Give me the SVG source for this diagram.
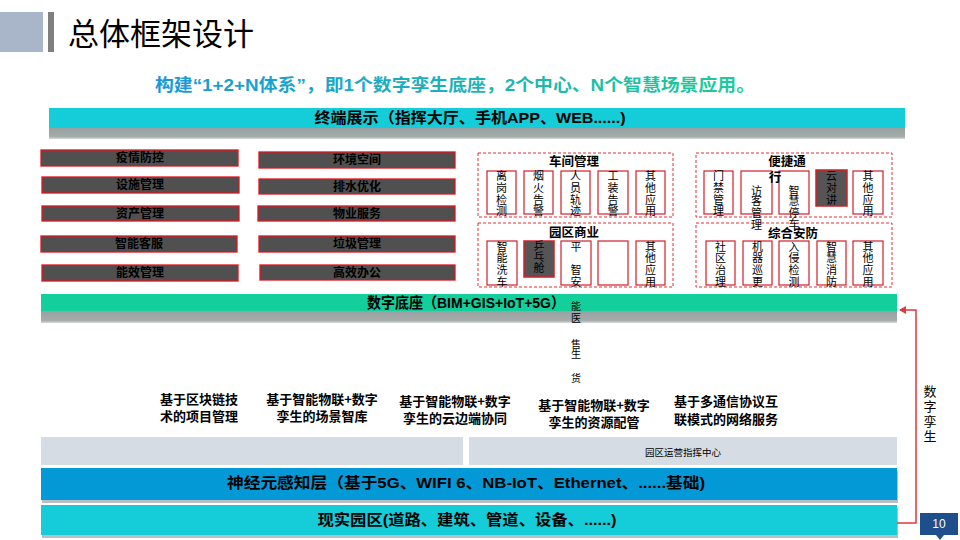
<svg xmlns="http://www.w3.org/2000/svg" width="960" height="540" viewBox="0 0 960 540">
<defs>
<style>
text{font-family:"Liberation Sans","Noto Sans CJK SC",sans-serif;fill:#000}
.t{font-size:12px;font-weight:bold;text-anchor:middle}
.box{fill:#505050;stroke:#E0141E;stroke-width:1.3}
.wb{fill:#fff;stroke:#D02028;stroke-width:1.2}
.gb{fill:#555;stroke:#D02028;stroke-width:1.5}
.dash{fill:none;stroke:#E03038;stroke-width:1;stroke-dasharray:3,2}
.v{font-size:11px;text-anchor:middle}
.sec{font-size:12.5px;font-weight:bold;text-anchor:middle}
.bar{font-size:15px;font-weight:bold;text-anchor:middle}
.cap{font-size:13px;font-weight:bold;text-anchor:middle;font-family:"Noto Sans CJK SC",sans-serif}
</style>
<linearGradient id="sub" x1="0" x2="1" y1="0" y2="0">
<stop offset="0" stop-color="#1898DA"/>
<stop offset="1" stop-color="#1FCB96"/>
</linearGradient>
<linearGradient id="sh" x1="0" x2="0" y1="0" y2="1">
<stop offset="0" stop-color="#96A09E"/>
<stop offset="0.8" stop-color="#A4ACAA"/>
<stop offset="1" stop-color="#D8DCDC"/>
</linearGradient>
<marker id="arr" markerWidth="8" markerHeight="8" refX="6" refY="4" orient="auto" markerUnits="userSpaceOnUse">
<path d="M0,0 L7,4 L0,8 Z" fill="#E0383F"/>
</marker>
</defs>
<rect width="960" height="540" fill="#fff"/>

<g id="header">
<rect x="0" y="12" width="43" height="40" fill="#A9B5C8"/>
<rect x="48" y="12" width="6" height="40" fill="#7F7F7F"/>
<text x="68" y="45" style="font-size:31px">总体框架设计</text>
</g>

<g id="subtitle">
<text x="455" y="91" text-anchor="middle" style="font-size:17px;font-weight:bold;fill:url(#sub)" textLength="600" lengthAdjust="spacingAndGlyphs">构建“1+2+N体系”，即1个数字孪生底座，2个中心、N个智慧场景应用。</text>
</g>

<g id="terminal">
<rect x="49" y="127" width="856" height="12" fill="url(#sh)"/>
<rect x="49" y="108" width="856" height="20" fill="#14CDD8"/>
<text class="bar" x="470" y="123" textLength="311" lengthAdjust="spacingAndGlyphs">终端展示（指挥大厅、手机APP、WEB......)</text>
</g>

<g id="left-list">
<g id="n-yiqing"><rect class="box" x="41" y="150" width="197" height="16"/><text class="t" x="140" y="162">疫情防控</text></g>
<g id="n-sheshi"><rect class="box" x="42" y="177" width="197" height="16"/><text class="t" x="140" y="189">设施管理</text></g>
<g id="n-zichan"><rect class="box" x="42" y="206" width="197" height="15"/><text class="t" x="140" y="218">资产管理</text></g>
<g id="n-kefu"><rect class="box" x="41" y="236" width="196" height="16"/><text class="t" x="139" y="248">智能客服</text></g>
<g id="n-nengxiao"><rect class="box" x="42" y="265" width="196" height="16"/><text class="t" x="140" y="277">能效管理</text></g>
<g id="n-huanjing"><rect class="box" x="259" y="152" width="196" height="16"/><text class="t" x="357" y="164">环境空间</text></g>
<g id="n-paishui"><rect class="box" x="259" y="179" width="196" height="15"/><text class="t" x="357" y="191">排水优化</text></g>
<g id="n-wuye"><rect class="box" x="258" y="206" width="197" height="15"/><text class="t" x="357" y="218">物业服务</text></g>
<g id="n-laji"><rect class="box" x="259" y="236" width="196" height="16"/><text class="t" x="357" y="248">垃圾管理</text></g>
<g id="n-bangong"><rect class="box" x="260" y="265" width="195" height="15"/><text class="t" x="357" y="277">高效办公</text></g>
</g>

<g id="workshop">
<rect class="dash" x="478" y="153" width="195" height="64"/>
<text class="sec" x="574" y="166">车间管理</text>
<g id="w1"><rect class="wb" x="487" y="171" width="29" height="43"/><text class="v"><tspan x="501.5" y="180">离</tspan><tspan x="501.5" y="192">岗</tspan><tspan x="501.5" y="204">检</tspan><tspan x="501.5" y="215">测</tspan></text></g>
<g id="w2"><rect class="wb" x="524" y="171" width="29" height="43"/><text class="v"><tspan x="538.5" y="180">烟</tspan><tspan x="538.5" y="192">火</tspan><tspan x="538.5" y="204">告</tspan><tspan x="538.5" y="215">警</tspan></text></g>
<g id="w3"><rect class="wb" x="561" y="171" width="29" height="43"/><text class="v"><tspan x="575.5" y="180">人</tspan><tspan x="575.5" y="192">员</tspan><tspan x="575.5" y="204">轨</tspan><tspan x="575.5" y="215">迹</tspan></text></g>
<g id="w4"><rect class="wb" x="598" y="171" width="30" height="43"/><text class="v"><tspan x="613" y="180">工</tspan><tspan x="613" y="192">装</tspan><tspan x="613" y="204">告</tspan><tspan x="613" y="215">警</tspan></text></g>
<g id="w5"><rect class="wb" x="636" y="171" width="29" height="43"/><text class="v"><tspan x="650.5" y="180">其</tspan><tspan x="650.5" y="192">他</tspan><tspan x="650.5" y="204">应</tspan><tspan x="650.5" y="215">用</tspan></text></g>
</g>

<g id="commerce">
<rect class="dash" x="478" y="223" width="195" height="64"/>
<text class="sec" x="574" y="237">园区商业</text>
<g id="c1"><rect class="wb" x="487" y="241" width="30" height="44"/><text class="v"><tspan x="502" y="251">智</tspan><tspan x="502" y="262">能</tspan><tspan x="502" y="274">洗</tspan><tspan x="502" y="286">车</tspan></text></g>
<g id="c2"><rect class="gb" x="524" y="241" width="30" height="36"/><text class="v"><tspan x="539" y="250">乒</tspan><tspan x="539" y="261">乓</tspan><tspan x="539" y="272">舱</tspan></text></g>
<g id="c3"><rect class="wb" x="561" y="241" width="30" height="44"/><text class="v"><tspan x="576" y="251">平</tspan><tspan x="576" y="274">智</tspan><tspan x="576" y="286">安</tspan></text></g>
<g id="c4"><rect class="wb" x="598" y="241" width="30" height="44"/></g>
<g id="c5"><rect class="wb" x="636" y="241" width="29" height="44"/><text class="v"><tspan x="650.5" y="251">其</tspan><tspan x="650.5" y="262">他</tspan><tspan x="650.5" y="274">应</tspan><tspan x="650.5" y="286">用</tspan></text></g>
</g>

<g id="convenience">
<rect class="dash" x="696" y="153" width="196" height="64"/>
<text class="sec" x="787" y="166">便捷通</text>
<g id="v1"><rect class="wb" x="704" y="171" width="29" height="43"/><text class="v"><tspan x="718.5" y="180">门</tspan><tspan x="718.5" y="192">禁</tspan><tspan x="718.5" y="204">管</tspan><tspan x="718.5" y="215">理</tspan></text></g>
<g id="v2"><rect class="wb" x="741" y="171" width="31" height="43"/><text class="v"><tspan x="756.5" y="195">访</tspan><tspan x="756.5" y="205">客</tspan><tspan x="756.5" y="217">管</tspan><tspan x="756.5" y="229">理</tspan></text></g>
<g id="v3"><rect class="wb" x="779" y="171" width="30" height="43"/><text class="v"><tspan x="794" y="195">智</tspan><tspan x="794" y="205">慧</tspan><tspan x="794" y="217">停</tspan><tspan x="794" y="228">车</tspan></text></g>
<text class="sec" x="775" y="182">行</text>
<g id="v4"><rect class="gb" x="816" y="170" width="31" height="36"/><text class="v"><tspan x="831.5" y="180">云</tspan><tspan x="831.5" y="192">对</tspan><tspan x="831.5" y="204">讲</tspan></text></g>
<g id="v5"><rect class="wb" x="853" y="171" width="30" height="43"/><text class="v"><tspan x="868" y="180">其</tspan><tspan x="868" y="192">他</tspan><tspan x="868" y="204">应</tspan><tspan x="868" y="215">用</tspan></text></g>
</g>

<g id="security">
<rect class="dash" x="696" y="223" width="196" height="64"/>
<text class="sec" x="793" y="238">综合安防</text>
<g id="s1"><rect class="wb" x="706" y="241" width="29" height="44"/><text class="v"><tspan x="720.5" y="251">社</tspan><tspan x="720.5" y="262">区</tspan><tspan x="720.5" y="274">治</tspan><tspan x="720.5" y="286">理</tspan></text></g>
<g id="s2"><rect class="wb" x="743" y="241" width="29" height="44"/><text class="v"><tspan x="757.5" y="251">机</tspan><tspan x="757.5" y="262">器</tspan><tspan x="757.5" y="274">巡</tspan><tspan x="757.5" y="286">更</tspan></text></g>
<g id="s3"><rect class="wb" x="779" y="241" width="30" height="44"/><text class="v"><tspan x="794" y="251">入</tspan><tspan x="794" y="262">侵</tspan><tspan x="794" y="274">检</tspan><tspan x="794" y="286">测</tspan></text></g>
<g id="s4"><rect class="wb" x="817" y="241" width="29" height="44"/><text class="v"><tspan x="831.5" y="251">智</tspan><tspan x="831.5" y="262">慧</tspan><tspan x="831.5" y="274">消</tspan><tspan x="831.5" y="286">防</tspan></text></g>
<g id="s5"><rect class="wb" x="853" y="241" width="30" height="44"/><text class="v"><tspan x="868" y="251">其</tspan><tspan x="868" y="262">他</tspan><tspan x="868" y="274">应</tspan><tspan x="868" y="286">用</tspan></text></g>
</g>

<g id="digital-base">
<rect x="41" y="310" width="856" height="13" fill="url(#sh)"/>
<rect x="41" y="294" width="856" height="17" fill="#12CF9C"/>
<text class="bar" x="466" y="308" textLength="198" lengthAdjust="spacingAndGlyphs">数字底座（BIM+GIS+IoT+5G）</text>
</g>

<g id="overflow-text">
<text class="v" style="font-size:10px"><tspan x="576" y="310">能</tspan><tspan x="576" y="322">医</tspan><tspan x="576" y="348">售</tspan><tspan x="576" y="358">生</tspan><tspan x="576" y="382">货</tspan></text>
</g>

<g id="captions">
<text class="cap"><tspan x="199" y="404">基于区块链技</tspan><tspan x="199" y="421">术的项目管理</tspan></text>
<text class="cap"><tspan x="322" y="404">基于智能物联+数字</tspan><tspan x="322" y="421">孪生的场景智库</tspan></text>
<text class="cap"><tspan x="455" y="406">基于智能物联+数字</tspan><tspan x="455" y="423">孪生的云边端协同</tspan></text>
<text class="cap"><tspan x="594" y="410">基于智能物联+数字</tspan><tspan x="594" y="427">孪生的资源配管</tspan></text>
<text class="cap"><tspan x="726" y="406">基于多通信协议互</tspan><tspan x="726" y="424">联模式的网络服务</tspan></text>
</g>

<g id="centers">
<rect x="41" y="437" width="422" height="28" fill="#D5DCE4"/>
<rect x="469" y="437" width="428" height="28" fill="#D5DCE4"/>
<text x="683" y="456" text-anchor="middle" style="font-size:9.5px">园区运营指挥中心</text>
</g>

<g id="neural">
<rect x="42" y="471" width="856" height="32" fill="#B8BEC2"/>
<rect x="41" y="468" width="856" height="32" fill="#0399D6"/>
<text class="bar" x="466" y="488" textLength="478" lengthAdjust="spacingAndGlyphs">神经元感知层（基于5G、WIFI 6、NB-IoT、Ethernet、......基础)</text>
</g>

<g id="real-park">
<rect x="42" y="508" width="856" height="30" fill="#B8BEC2"/>
<rect x="41" y="505" width="856" height="30" fill="#14CDD8"/>
<text class="bar" x="467" y="525" textLength="299" lengthAdjust="spacingAndGlyphs">现实园区(道路、建筑、管道、设备、......)</text>
</g>

<g id="connectors">
<path d="M897,523 H916 V310 H900" fill="none" stroke="#E0383F" stroke-width="1.5" marker-end="url(#arr)"/>
<text style="font-size:13px" text-anchor="middle"><tspan x="930" y="396">数</tspan><tspan x="930" y="411">字</tspan><tspan x="930" y="426">孪</tspan><tspan x="930" y="441">生</tspan></text>
</g>

<g id="page-number">
<path d="M920,513 H958 V535 H944 L940,540 L936,535 H920 Z" fill="#1F4E8C"/>
<text x="939" y="528" text-anchor="middle" style="font-size:12px;fill:#fff">10</text>
</g>
</svg>
